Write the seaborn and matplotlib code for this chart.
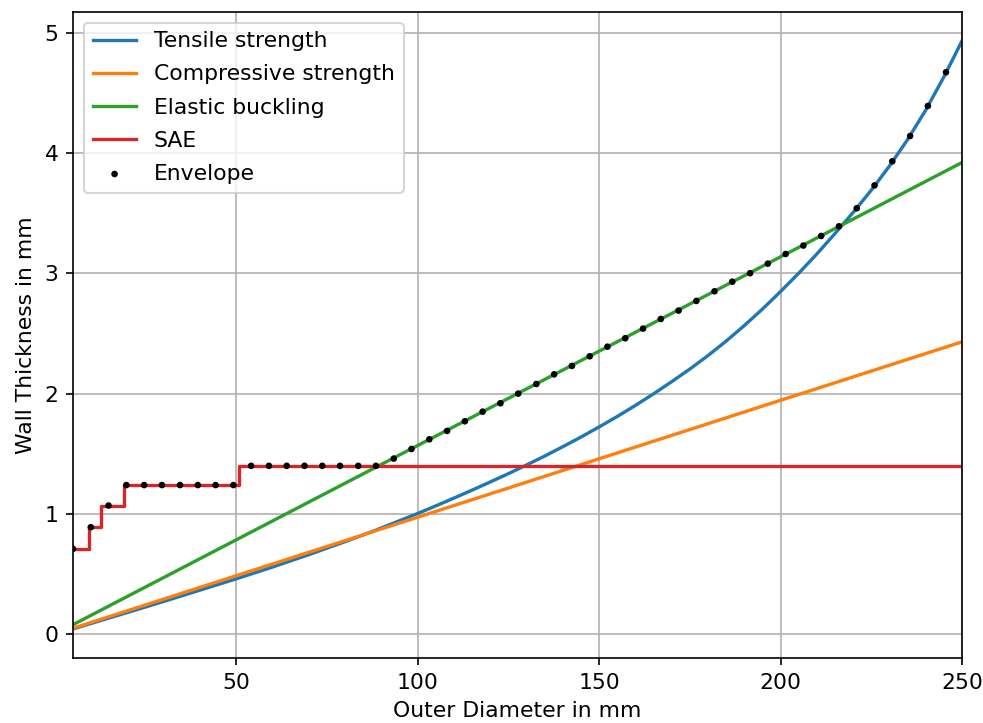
import matplotlib
matplotlib.use("Agg")
import matplotlib.pyplot as plt
import seaborn as sns

# Tensile strength curve
tensile_od = [5, 15, 25, 35, 50, 60, 70, 80, 88, 100, 105, 110, 115, 120, 125,
              130, 135, 140, 145, 150, 155, 160, 165, 170, 175, 180, 185, 190,
              195, 200, 205, 210, 215, 220, 225, 230, 235, 240, 245, 250]
tensile_t = [0.045, 0.136, 0.227, 0.320, 0.461, 0.559, 0.662, 0.770, 0.860,
             1.004, 1.067, 1.132, 1.198, 1.266, 1.335, 1.407, 1.481, 1.559,
             1.639, 1.723, 1.810, 1.902, 1.998, 2.099, 2.204, 2.316, 2.436,
             2.565, 2.702, 2.848, 3.000, 3.160, 3.330, 3.505, 3.690, 3.890,
             4.110, 4.355, 4.630, 4.930]

# Compressive strength and elastic buckling (straight lines)
comp_od = [5, 250]
comp_t = [0.05, 2.43]
buckling_od = [5, 250]
buckling_t = [0.08, 3.92]

# SAE standard wall thickness steps
sae_od = [5, 9.525, 12.7, 19.05, 50.8, 250]
sae_t = [0.71, 0.89, 1.07, 1.24, 1.40, 1.40]

# Envelope points
env_od = [5.0, 9.9, 14.8, 19.7, 24.6, 29.5, 34.5, 39.4, 44.3, 49.2,
          54.1, 59.0, 63.9, 68.8, 73.7, 78.6, 83.6, 88.5, 93.4, 98.3,
          103.2, 108.1, 113.0, 117.9, 122.8, 127.7, 132.7, 137.6, 142.5, 147.4,
          152.3, 157.2, 162.1, 167.0, 171.9, 176.8, 181.8, 186.7, 191.6, 196.5,
          201.4, 206.3, 211.2, 216.1, 221.0, 225.9, 230.8, 235.7, 240.6, 245.6]
env_t = [0.71, 0.89, 1.07, 1.24, 1.24, 1.24, 1.24, 1.24, 1.24, 1.24,
         1.40, 1.40, 1.40, 1.40, 1.40, 1.40, 1.40, 1.40, 1.46, 1.54,
         1.62, 1.69, 1.77, 1.85, 1.92, 2.00, 2.08, 2.16, 2.23, 2.31,
         2.39, 2.46, 2.54, 2.62, 2.69, 2.77, 2.85, 2.93, 3.00, 3.08,
         3.16, 3.23, 3.31, 3.39, 3.54, 3.73, 3.93, 4.14, 4.39, 4.67]

plt.rcParams["font.size"] = 10.5
plt.rcParams["lines.linewidth"] = 1.6

fig, ax = plt.subplots(figsize=(984 / 150, 723 / 150), dpi=150)
fig.subplots_adjust(left=0.0742, right=0.9776, top=0.984, bottom=0.0895)

sns.lineplot(x=tensile_od, y=tensile_t, ax=ax, color="tab:blue", label="Tensile strength")
sns.lineplot(x=comp_od, y=comp_t, ax=ax, color="tab:orange", label="Compressive strength")
sns.lineplot(x=buckling_od, y=buckling_t, ax=ax, color="tab:green", label="Elastic buckling")
sns.lineplot(x=sae_od, y=sae_t, ax=ax, color="tab:red", label="SAE", drawstyle="steps-post")
sns.scatterplot(x=env_od, y=env_t, ax=ax, color="black", s=10, edgecolor="none",
                label="Envelope", zorder=5)

ax.set_xlim(5, 250)
ax.grid(True)
ax.set_xlabel("Outer Diameter in mm")
ax.set_ylabel("Wall Thickness in mm")
ax.legend(loc="upper left", labelspacing=0.6)

fig.savefig("out.png", dpi=150)
